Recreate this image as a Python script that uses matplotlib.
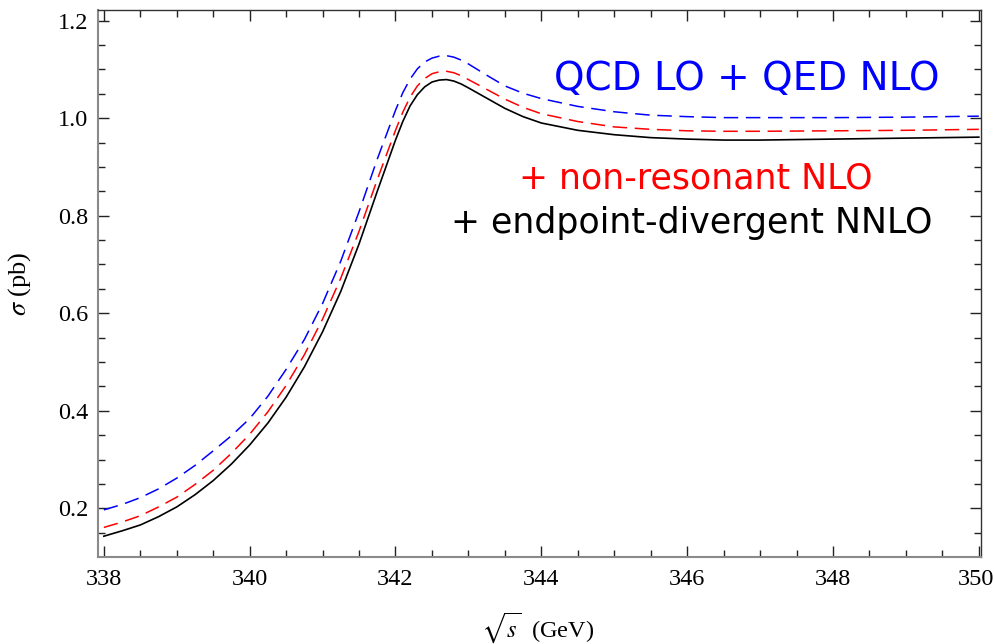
import matplotlib
matplotlib.use('Agg')
import matplotlib.pyplot as plt
import matplotlib.transforms as mtransforms
from matplotlib.ticker import MultipleLocator

# ---- data ----
sqrt_s = [338.0, 338.25, 338.5, 338.75, 339.0, 339.25, 339.5, 339.75, 340.0, 340.25,
          340.5, 340.75, 341.0, 341.25, 341.5, 341.75, 342.0, 342.1, 342.2, 342.3,
          342.4, 342.5, 342.6, 342.7, 342.8, 342.9, 343.0, 343.25, 343.5, 343.75,
          344.0, 344.5, 345.0, 345.5, 346.0, 346.5, 347.0, 348.0, 349.0, 350.0]

# QCD LO + QED NLO (blue, dashed)
sigma_lo_qed = [0.197, 0.208, 0.222, 0.240, 0.262, 0.288, 0.318, 0.349, 0.384, 0.430,
                0.485, 0.546, 0.620, 0.707, 0.808, 0.916, 1.016, 1.052, 1.080, 1.101,
                1.115, 1.123, 1.127, 1.128, 1.125, 1.119, 1.111, 1.088, 1.066, 1.051,
                1.040, 1.024, 1.013, 1.006, 1.003, 1.001, 1.001, 1.001, 1.002, 1.004]

# + non-resonant NLO (red, dashed)
sigma_nonres = [0.161, 0.172, 0.185, 0.203, 0.223, 0.249, 0.278, 0.313, 0.352, 0.398,
                0.452, 0.515, 0.588, 0.672, 0.768, 0.874, 0.975, 1.012, 1.043, 1.066,
                1.081, 1.091, 1.095, 1.096, 1.093, 1.087, 1.079, 1.059, 1.039, 1.022,
                1.009, 0.993, 0.982, 0.977, 0.974, 0.973, 0.973, 0.974, 0.975, 0.977]

# + endpoint-divergent NNLO (black, solid)
sigma_nnlo = [0.143, 0.154, 0.166, 0.183, 0.203, 0.228, 0.257, 0.291, 0.330, 0.375,
              0.428, 0.490, 0.562, 0.645, 0.742, 0.850, 0.955, 0.993, 1.025, 1.048,
              1.064, 1.074, 1.078, 1.079, 1.076, 1.070, 1.062, 1.041, 1.020, 1.003,
              0.990, 0.975, 0.966, 0.960, 0.957, 0.955, 0.955, 0.957, 0.959, 0.961]

x_ticks = [338, 340, 342, 344, 346, 348, 350]
y_ticks = [0.2, 0.4, 0.6, 0.8, 1.0, 1.2]

label_lo = 'QCD LO + QED NLO'
label_nonres = '+ non-resonant NLO'
label_nnlo = '+ endpoint-divergent NNLO'

# ---- figure ----
plt.rcParams['font.family'] = ['Liberation Serif', 'DejaVu Serif']
plt.rcParams['mathtext.fontset'] = 'stix'

W, H = 995, 644
fig = plt.figure(figsize=(W / 100, H / 100), dpi=100)
L, R, T, B = 98, 981, 10.3, 556.7
ax = fig.add_axes([L / W, 1 - B / H, (R - L) / W, (B - T) / H])

dash = (0, (9.5, 5.0))
ax.plot(sqrt_s, sigma_lo_qed, color=(0, 0, 1), lw=1.1, ls=dash)
ax.plot(sqrt_s, sigma_nonres, color=(1, 0, 0), lw=1.1, ls=dash)
ax.plot(sqrt_s, sigma_nnlo, color='black', lw=1.2)

ax.set_xlim(337.92, 350.03)
ax.set_ylim(0.101, 1.221)

ax.set_xticks(x_ticks)
ax.set_xticklabels([str(v) for v in x_ticks])
ax.set_yticks(y_ticks)
ax.set_yticklabels([f'{v:.1f}' for v in y_ticks])
ax.xaxis.set_minor_locator(MultipleLocator(0.5))
ax.yaxis.set_minor_locator(MultipleLocator(0.05))

ax.tick_params(which='both', direction='in', top=True, right=True,
               labelsize=17.5, color='#222222', width=1.0)
ax.tick_params(which='major', length=8)
ax.tick_params(which='minor', length=5)
ax.tick_params(axis='x', which='major', pad=9)
ax.tick_params(axis='y', which='major', pad=7)

# keep the last x tick label inside the canvas
last = ax.get_xticklabels()[-1]
last.set_transform(last.get_transform() +
                   mtransforms.ScaledTranslation(-3 / 100, 0, fig.dpi_scale_trans))

for s in ['left', 'bottom']:
    ax.spines[s].set_color('#8a8a8a')
    ax.spines[s].set_linewidth(1.5)
for s in ['top', 'right']:
    ax.spines[s].set_color('#333333')
    ax.spines[s].set_linewidth(1.0)

ax.set_xlabel(r'$\sqrt{s}$  (GeV)', fontsize=17.5)
ax.xaxis.set_label_coords((538 - L) / (R - L), (B - 637) / (B - T), transform=ax.transAxes)
ax.xaxis.label.set_va('baseline')
ax.set_ylabel(r'$\sigma$ (pb)', fontsize=19)
ax.yaxis.set_label_coords((33 - L) / (R - L), 0.5, transform=ax.transAxes)

sans = ['DejaVu Sans']
fig.text(940 / W, 1 - 90 / H, label_lo, color=(0, 0, 1), fontsize=28,
         ha='right', va='baseline', family=sans)
fig.text(696 / W, 1 - 188.3 / H, label_nonres, color=(1, 0, 0), fontsize=25,
         ha='center', va='baseline', family=sans)
fig.text(692 / W, 1 - 233.3 / H, label_nnlo, color='black', fontsize=25,
         ha='center', va='baseline', family=sans)

fig.savefig('out.png', dpi=100)
